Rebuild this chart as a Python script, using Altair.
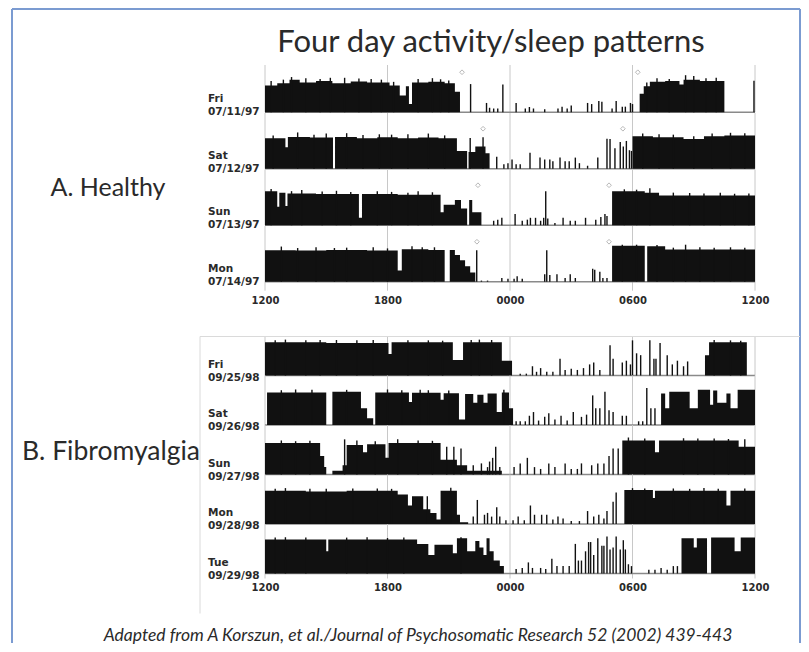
import json
import altair as alt
import pandas as pd

# ---------------- data ----------------
TICK_HOURS = [0, 6, 12, 18, 24]
TICK_LABELS = ["1200", "1800", "0000", "0600", "1200"]

TITLE = "Four day activity/sleep patterns"
PANEL_A = "A. Healthy"
PANEL_B = "B. Fibromyalgia"
CAPTION = "Adapted from A Korszun, et al./Journal of Psychosomatic Research 52 (2002) 439-443"

A_DAYS = ["Fri", "Sat", "Sun", "Mon"]
A_DATES = ["07/11/97", "07/12/97", "07/13/97", "07/14/97"]
B_DAYS = ["Fri", "Sat", "Sun", "Mon", "Tue"]
B_DATES = ["09/25/98", "09/26/98", "09/27/98", "09/28/98", "09/29/98"]

# segments: (start hour after 12:00, end hour, activity level 0-100)
# spikes:   (hour after 12:00, activity level)
A_FRI_SEGS = [(0.0, 0.6, 72), (0.6, 1.2, 78), (1.2, 1.7, 88), (1.7, 2.5, 80), (2.5, 3.3, 84),
              (3.3, 4.2, 78), (4.2, 5.0, 83), (5.0, 6.1, 80), (6.1, 6.6, 72), (6.6, 6.9, 45),
              (6.9, 7.05, 70), (7.05, 7.2, 22), (7.2, 8.0, 80), (8.0, 8.8, 82), (8.8, 9.3, 78),
              (9.3, 9.55, 55), (18.35, 18.55, 50), (18.55, 18.85, 70), (18.85, 19.6, 82),
              (19.6, 20.3, 84), (20.3, 20.5, 75), (20.5, 21.3, 88), (21.3, 22.5, 84)]
A_FRI_SPIKES = [(0.3, 84), (0.9, 88), (1.3, 95), (2.0, 92), (2.7, 90), (3.2, 93), (3.9, 93),
                (4.6, 91), (5.2, 90), (5.7, 88), (6.3, 82), (7.5, 90), (8.2, 92), (8.6, 89), (9.0, 86),
                (10.07, 76), (10.85, 25),
                (11.0, 12), (11.2, 10), (11.4, 10), (11.65, 75), (12.3, 25), (12.75, 10), (12.95, 14),
                (13.15, 10), (13.7, 8), (14.35, 10), (14.55, 15), (14.8, 10), (15.0, 18), (15.8, 25),
                (16.0, 22), (16.35, 30), (16.5, 28), (17.0, 10), (17.2, 30), (17.5, 15), (17.65, 15),
                (17.9, 25), (18.0, 22), (18.7, 80), (19.2, 92), (19.8, 90), (20.6, 100), (21.0, 98),
                (21.6, 92), (22.1, 93), (23.95, 85)]
A_FRI_MARKS = [9.65, 18.26]

A_SAT_SEGS = [(0.0, 1.0, 82), (1.0, 1.12, 58), (1.12, 2.2, 86), (2.2, 3.33, 84), (3.43, 4.5, 86),
              (4.5, 5.5, 82), (5.5, 6.5, 85), (6.5, 7.5, 82), (7.5, 8.5, 84), (8.5, 9.4, 82),
              (9.4, 9.9, 48), (9.97, 10.3, 45), (10.3, 10.8, 60), (10.8, 11.0, 42),
              (18.0, 19.0, 88), (19.0, 20.5, 85), (20.5, 21.5, 80), (21.5, 22.5, 88), (22.5, 24.0, 90)]
A_SAT_SPIKES = [(0.4, 90), (1.6, 98), (2.4, 92), (3.0, 95), (4.0, 96), (4.8, 91), (5.6, 93),
                (6.2, 92), (7.0, 93), (8.0, 95), (8.8, 90), (10.05, 83), (10.68, 85),
                (11.35, 32), (11.7, 12), (11.9, 15), (12.1, 25), (12.3, 12), (12.5, 12), (12.98, 43),
                (13.47, 30), (13.7, 25), (13.95, 25), (14.1, 20), (14.45, 30), (14.7, 20), (14.9, 20),
                (15.2, 30), (15.4, 15), (15.8, 8), (16.3, 30), (16.75, 81), (16.9, 80), (17.14, 55),
                (17.4, 72), (17.55, 60), (17.7, 75), (17.85, 50), (17.95, 48), (18.5, 95), (19.3, 93),
                (20.0, 92), (21.0, 88), (21.9, 95), (22.8, 97), (23.5, 96)]
A_SAT_MARKS = [10.68, 17.53]

A_SUN_SEGS = [(0.0, 0.6, 92), (0.6, 0.7, 50), (0.7, 1.0, 88), (1.0, 1.1, 52), (1.1, 2.5, 86),
              (2.5, 4.6, 84), (4.6, 4.75, 20), (4.75, 6.5, 84), (6.5, 8.6, 82), (8.6, 8.75, 35),
              (8.75, 9.3, 55), (9.3, 9.6, 68), (9.6, 9.9, 45), (10.0, 10.15, 68), (10.15, 10.6, 35),
              (17.0, 18.6, 92), (18.6, 19.3, 88), (19.3, 24.0, 80)]
A_SUN_SPIKES = [(0.3, 98), (1.3, 92), (1.8, 95), (2.8, 91), (3.5, 93), (4.2, 90), (5.5, 92),
                (6.2, 90), (7.0, 88), (7.5, 92), (8.2, 89), (11.2, 12), (11.4, 15),
                (11.6, 20), (12.25, 30), (12.6, 12), (12.85, 15), (13.0, 20), (13.25, 20), (13.5, 12),
                (13.65, 20), (13.75, 92), (13.85, 18), (14.2, 6), (14.6, 20), (14.95, 12), (15.2, 12),
                (15.7, 20), (16.2, 15), (16.45, 22), (16.65, 30), (16.75, 25), (17.6, 97), (18.2, 96),
                (18.85, 100), (20.0, 88), (20.8, 87), (21.5, 86), (22.3, 88), (23.0, 85), (23.7, 86)]
A_SUN_MARKS = [10.43, 16.85]

A_MON_SEGS = [(0.0, 1.5, 85), (1.5, 3.0, 84), (3.0, 5.0, 86), (5.0, 6.5, 84), (6.5, 6.7, 30),
              (6.7, 8.0, 88), (8.0, 8.8, 86), (9.05, 9.3, 86), (9.3, 9.55, 72), (9.55, 9.8, 58),
              (9.8, 10.05, 42), (10.05, 10.3, 25), (17.0, 18.6, 97), (18.72, 19.6, 96), (19.6, 24.0, 87)]
A_MON_SPIKES = [(0.8, 95), (1.6, 91), (2.5, 93), (3.4, 91), (4.0, 92), (5.3, 93), (6.0, 90),
                (7.2, 96), (7.7, 93), (8.3, 93), (10.37, 85), (10.6, 3),
                (10.9, 3), (11.6, 10), (11.9, 8), (12.2, 8), (12.35, 15), (12.6, 8), (13.7, 20),
                (13.8, 85), (13.95, 18), (14.3, 20), (14.7, 10), (14.95, 20), (15.2, 10), (16.05, 35),
                (16.15, 32), (16.4, 27), (16.55, 10), (16.75, 10), (17.5, 100), (18.2, 100), (19.2, 99),
                (20.0, 92), (20.6, 100), (21.3, 93), (22.0, 92), (22.8, 93), (23.5, 92)]
A_MON_MARKS = [10.38, 16.85]

B_FRI_SEGS = [(0.0, 3.0, 90), (3.0, 6.05, 88), (6.05, 6.2, 58), (6.2, 9.2, 90), (9.2, 9.7, 42),
              (9.7, 11.6, 90), (11.6, 12.1, 40), (21.55, 21.75, 55), (21.75, 23.6, 90)]
B_FRI_SPIKES = [(0.5, 95), (1.0, 97), (2.0, 95), (2.7, 96), (3.5, 96), (4.5, 95), (5.3, 96),
                (7.0, 95), (8.0, 95), (8.7, 94), (10.1, 96), (10.5, 97), (11.1, 96),
                (12.5, 5), (12.8, 5), (13.1, 25),
                (13.3, 10), (13.5, 20), (13.8, 10), (14.1, 10), (14.45, 45), (14.7, 15), (15.0, 18),
                (15.3, 15), (15.6, 20), (15.9, 30), (16.1, 35), (16.4, 15), (16.9, 82), (17.05, 45),
                (17.5, 35), (17.7, 40), (17.9, 30), (18.0, 95), (18.2, 60), (18.4, 55), (18.85, 95),
                (19.05, 45), (19.15, 45), (19.35, 88), (19.7, 55), (19.95, 30), (20.2, 40), (20.5, 25),
                (20.7, 38), (22.0, 96), (22.8, 95), (23.3, 94)]

B_SAT_SEGS = [(0.1, 3.0, 88), (3.3, 4.7, 90), (4.7, 5.0, 45), (5.0, 5.3, 18), (5.4, 7.05, 88),
              (7.05, 7.2, 62), (7.2, 8.6, 87), (8.6, 8.75, 68), (8.75, 9.5, 86), (9.5, 9.8, 15),
              (9.8, 10.2, 84), (10.2, 10.4, 60), (10.4, 10.7, 82), (10.7, 10.9, 60), (10.9, 11.35, 85),
              (11.35, 11.6, 35), (11.6, 11.95, 88), (11.95, 12.15, 45), (19.4, 19.6, 85),
              (19.6, 19.8, 45), (19.8, 20.8, 90), (20.8, 21.2, 45), (21.2, 21.8, 95), (21.8, 21.95, 55),
              (21.95, 22.15, 93), (22.15, 22.6, 60), (22.6, 22.8, 85), (22.8, 23.15, 45), (23.15, 24.0, 95)]
B_SAT_SPIKES = [(0.8, 94), (1.5, 96), (2.3, 95), (4.0, 95), (6.0, 96), (6.7, 94), (7.6, 95),
                (8.0, 94), (9.0, 93), (11.7, 95), (12.3, 10), (12.5, 10),
                (12.75, 10), (12.95, 25), (13.15, 35), (13.4, 12), (13.7, 22), (13.9, 32), (14.2, 15),
                (14.5, 25), (14.8, 12), (15.1, 35), (15.5, 22), (15.75, 28), (16.05, 80), (16.2, 45),
                (16.4, 45), (16.65, 90), (16.85, 40), (17.05, 35), (17.5, 25), (17.7, 25), (18.3, 10),
                (18.5, 10), (18.7, 100), (18.9, 45), (19.1, 45)]

B_SUN_SEGS = [(0.0, 2.7, 85), (2.7, 2.9, 50), (2.9, 3.0, 20), (3.3, 3.8, 10), (3.8, 4.0, 25),
              (4.0, 4.8, 80), (4.8, 5.0, 60), (5.0, 5.9, 82), (5.9, 6.05, 45), (6.05, 8.6, 85),
              (8.6, 9.4, 40), (9.4, 9.9, 25), (9.9, 11.6, 10), (17.5, 19.1, 92), (19.1, 19.3, 60),
              (19.3, 23.2, 92), (23.2, 24.0, 75)]
B_SUN_SPIKES = [(0.8, 92), (1.5, 90), (2.2, 91), (3.9, 95), (4.5, 92), (5.4, 90), (6.5, 95),
                (7.5, 92), (8.2, 91), (8.9, 75),
                (9.25, 75), (9.6, 70), (10.2, 25), (10.6, 30), (10.9, 20), (11.0, 35), (11.15, 45),
                (11.3, 75), (11.5, 20), (12.2, 20), (12.5, 30), (12.85, 45), (13.2, 20), (13.5, 15),
                (13.9, 30), (14.2, 20), (14.7, 30), (15.0, 15), (15.3, 15), (15.5, 30), (16.0, 25),
                (16.3, 30), (16.6, 30), (16.85, 50), (17.05, 70), (17.3, 70), (17.8, 100), (18.6, 97),
                (20.5, 98), (21.2, 97), (22.0, 97), (22.7, 96), (23.5, 95)]

B_MON_SEGS = [(0.0, 2.0, 90), (2.0, 4.0, 88), (4.0, 6.5, 90), (6.5, 7.0, 80), (7.0, 7.2, 50),
              (7.2, 7.75, 75), (7.75, 8.1, 40), (8.1, 8.4, 30), (8.4, 8.6, 12), (8.6, 9.4, 90),
              (9.4, 9.55, 25), (9.55, 9.95, 5), (17.6, 19.0, 92), (19.0, 19.1, 70), (19.1, 22.6, 90),
              (22.6, 22.8, 50), (22.8, 24.0, 90)]
B_MON_SPIKES = [(0.5, 95), (1.0, 97), (2.2, 95), (3.0, 95), (4.3, 96), (5.5, 96), (6.2, 95),
                (7.95, 75), (9.1, 98), (10.2, 20), (10.4, 65),
                (10.75, 25), (10.9, 30), (11.1, 20), (11.35, 45), (11.5, 20), (11.8, 10), (12.15, 10),
                (12.4, 20), (12.7, 10), (13.0, 50), (13.2, 25), (13.55, 25), (13.8, 25), (14.1, 12),
                (14.35, 20), (14.6, 15), (15.0, 8), (15.4, 8), (15.8, 35), (16.1, 20), (16.35, 25),
                (16.6, 15), (16.75, 35), (17.05, 60), (17.2, 85), (18.0, 97), (18.6, 96), (20.0, 96),
                (20.8, 95), (21.5, 97), (22.2, 95), (23.5, 96)]

B_TUE_SEGS = [(0.0, 3.0, 92), (3.0, 3.1, 60), (3.1, 7.45, 92), (7.45, 8.0, 80), (8.0, 8.3, 50),
              (8.3, 9.2, 78), (9.2, 9.4, 55), (9.4, 9.9, 95), (9.9, 10.3, 60), (10.3, 10.5, 88),
              (10.5, 10.7, 70), (10.7, 10.85, 50), (10.85, 11.0, 95), (11.0, 11.2, 60), (11.2, 11.5, 35),
              (11.5, 11.7, 20), (20.4, 21.0, 95), (21.0, 21.15, 70), (21.15, 21.65, 95),
              (21.85, 23.0, 97), (23.0, 23.3, 60), (23.3, 24.0, 97)]
B_TUE_SPIKES = [(0.5, 97), (1.0, 98), (2.0, 97), (4.0, 97), (5.0, 98), (6.0, 96), (6.8, 97),
                (9.6, 98), (12.3, 12), (12.6, 15), (12.9, 30),
                (13.1, 15), (13.5, 15), (13.75, 12), (14.05, 40), (14.3, 20), (14.6, 20), (14.9, 20),
                (15.2, 80), (15.35, 35), (15.5, 35), (15.7, 60), (15.85, 85), (15.95, 85), (16.1, 50),
                (16.3, 95), (16.5, 75), (16.6, 75), (16.75, 100), (16.9, 65), (17.05, 70), (17.2, 100),
                (17.4, 65), (17.55, 90), (17.65, 65), (17.8, 25), (17.95, 20), (18.8, 10), (19.1, 10),
                (19.4, 15), (19.7, 10), (20.0, 20), (20.2, 20)]

A_ROWS = [(A_FRI_SEGS, A_FRI_SPIKES, A_FRI_MARKS), (A_SAT_SEGS, A_SAT_SPIKES, A_SAT_MARKS),
          (A_SUN_SEGS, A_SUN_SPIKES, A_SUN_MARKS), (A_MON_SEGS, A_MON_SPIKES, A_MON_MARKS)]
B_ROWS = [(B_FRI_SEGS, B_FRI_SPIKES, []), (B_SAT_SEGS, B_SAT_SPIKES, []),
          (B_SUN_SEGS, B_SUN_SPIKES, []), (B_MON_SEGS, B_MON_SPIKES, []),
          (B_TUE_SEGS, B_TUE_SPIKES, [])]

# ---------------- layout / style ----------------
W = 490
SPACING = 12.5
A_H = 43.2
A_YMAX = 100 * A_H / 37
B_H = 37.0
B_YMAX = 100
MARK_LEVEL = 108
INK = "#111111"
GRID = "#c8c8c8"
BORDER = "#7b9bd1"
FRAME = "#dadada"
TEXT_FONT = "Lato"
SMALL_FONT = "DejaVu Sans"

label_expr = json.dumps(TICK_LABELS) + "[round(datum.value / 6)]"


def step_points(segs):
    """Segments -> step-after points (one per segment start, plus a 0 at each gap/end)."""
    segs = sorted(segs)
    rows = []
    for k, (s, e, lvl) in enumerate(segs):
        rows.append({"x": s, "level": lvl})
        nxt = segs[k + 1][0] if k + 1 < len(segs) else None
        if nxt is None or nxt > e + 1e-9:
            rows.append({"x": e, "level": 0})
    return pd.DataFrame(rows)


def text_layer(text, x, y, size, font=TEXT_FONT, style="normal", color="#2a2a2a", align="center", weight="normal"):
    return alt.Chart(pd.DataFrame({"t": [text]})).mark_text(
        font=font, fontSize=size, fontStyle=style, color=color, align=align,
        baseline="alphabetic", fontWeight=weight
    ).encode(x=alt.value(x), y=alt.value(y), text="t:N")


def hline(x1, x2, y, color, width):
    return alt.Chart(pd.DataFrame({"v": [0]})).mark_rule(color=color, strokeWidth=width).encode(
        x=alt.value(x1), x2=alt.value(x2), y=alt.value(y))


def vline(x, y1, y2, color, width):
    return alt.Chart(pd.DataFrame({"v": [0]})).mark_rule(color=color, strokeWidth=width).encode(
        x=alt.value(x), y=alt.value(y1), y2=alt.value(y2))


def row_chart(segs, spikes, marks, day, date, h, ymax, grid_top, grid_bot, label_y, axis_pad=None, extras=()):
    xs = alt.Scale(domain=[0, 24], nice=False, zero=False)
    ys = alt.Scale(domain=[0, ymax], nice=False, zero=True)
    if axis_pad is None:
        xaxis = None
    else:
        xaxis = alt.Axis(values=TICK_HOURS, labelExpr=label_expr, domain=False, ticks=False, grid=False,
                         labelPadding=axis_pad, labelFont=SMALL_FONT, labelFontWeight="bold",
                         labelFontSize=10, labelColor="#2a2a2a", labelFlush=False, labelOverlap=False,
                         title=None)
    grid = alt.Chart(pd.DataFrame({"h": TICK_HOURS})).mark_rule(color=GRID, strokeWidth=1).encode(
        x=alt.X("h:Q", scale=xs, axis=xaxis), y=alt.value(grid_top), y2=alt.value(grid_bot))
    base = hline(0, W, h, "#8a8a8a", 1.6)
    blocks = alt.Chart(step_points(segs)).mark_area(color=INK, interpolate="step-after").encode(
        x=alt.X("x:Q", scale=xs, axis=xaxis),
        y=alt.Y("level:Q", scale=ys, axis=None, stack=None))
    spk = alt.Chart(pd.DataFrame(spikes, columns=["t", "level"])).mark_rule(color=INK, strokeWidth=1.4).encode(
        x=alt.X("t:Q", scale=xs, axis=xaxis),
        y=alt.Y("level:Q", scale=ys, axis=None), y2=alt.datum(0))
    layers = [grid, base, blocks, spk]
    if marks:
        mk = alt.Chart(pd.DataFrame({"t": marks, "level": [MARK_LEVEL] * len(marks)})).mark_point(
            shape="diamond", filled=False, size=22, color="#9a9a9a", strokeWidth=1).encode(
            x=alt.X("t:Q", scale=xs, axis=xaxis), y=alt.Y("level:Q", scale=ys, axis=None))
        layers.append(mk)
    lab = alt.Chart(pd.DataFrame({"t": [day + "\n" + date]})).mark_text(
        font=SMALL_FONT, fontWeight="bold", fontSize=10.5, lineBreak="\n", lineHeight=13,
        align="left", baseline="alphabetic", color="#2a2a2a").encode(
        x=alt.value(-57), y=alt.value(label_y), text="t:N")
    layers.append(lab)
    layers.extend(extras)
    return alt.layer(*layers).properties(width=W, height=h)


charts = []
# Panel A (origin of first row = page (265, 69))
for i, (segs, spikes, marks) in enumerate(A_ROWS):
    extras = []
    gtop = -SPACING
    gbot = A_H
    axis_pad = None
    if i == 0:
        gtop = -4
        extras = [
            vline(-253, -60, 574, BORDER, 2),
            hline(-253, 535, -60, BORDER, 2),
            vline(535, -60, 574, BORDER, 2),
            text_layer(TITLE, 226, -17, 31),
            text_layer(PANEL_A, -157, 127, 25),
        ]
    if i == len(A_ROWS) - 1:
        gbot = A_H + 9
        axis_pad = 14
    charts.append(row_chart(segs, spikes, marks, A_DAYS[i], A_DATES[i], A_H, A_YMAX,
                            gtop, gbot, A_H - 10, axis_pad, extras))

spacer = alt.Chart(pd.DataFrame({"v": [0]})).mark_rule(opacity=0).encode(
    x=alt.value(0), x2=alt.value(1), y=alt.value(0)).properties(width=W, height=31)
charts.append(spacer)

# Panel B (first row top = page y 335)
for i, (segs, spikes, marks) in enumerate(B_ROWS):
    extras = []
    gtop = -SPACING
    gbot = B_H
    axis_pad = None
    if i == 0:
        gtop = -2
        extras = [
            hline(-65, 535, -2, FRAME, 1),
            vline(-65, -2, 275, FRAME, 1),
            text_layer(PANEL_B, -154, 121, 26.5),
        ]
    if i == len(B_ROWS) - 1:
        gbot = B_H + 5
        axis_pad = 9
        extras = [text_layer(CAPTION, 153, 104, 17.5, style="italic")]
    charts.append(row_chart(segs, spikes, marks, B_DAYS[i], B_DATES[i], B_H, B_YMAX,
                            gtop, gbot, B_H - 8, axis_pad, extras))

chart = alt.vconcat(*charts, spacing=SPACING, bounds="flush").resolve_scale(
    x="independent", y="independent").properties(
    padding={"left": 3, "top": 0, "right": 0, "bottom": 0}, background="white"
).configure_view(strokeWidth=0)

chart.save("out.html", embed_options={"renderer": "svg", "actions": False})
